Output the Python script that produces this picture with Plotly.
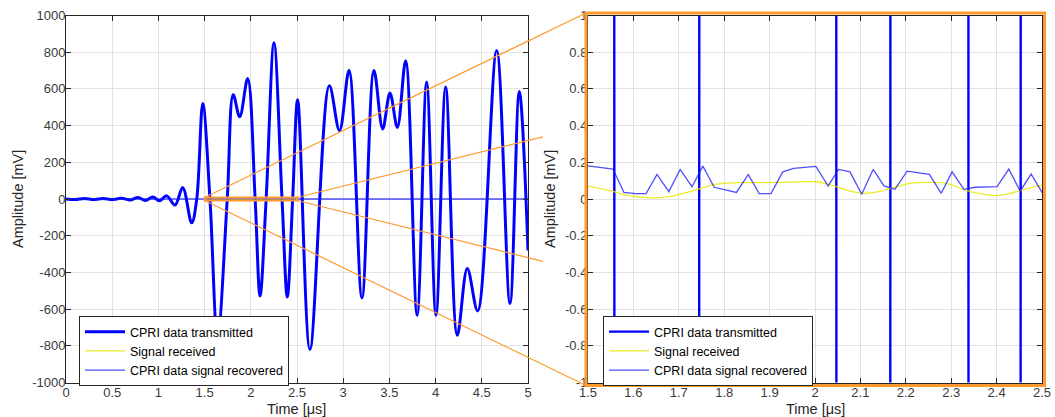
import plotly.graph_objects as go

W, H = 1055, 417

# ---------------- data ----------------
# CPRI data transmitted: key points (extrema / zero crossings), time in µs, amplitude in mV
tx_time = [0.00, 0.10, 0.20, 0.30, 0.40, 0.50, 0.60, 0.70, 0.78, 0.86, 0.94, 1.01, 1.09,
           1.18, 1.263, 1.36, 1.415, 1.48, 1.558, 1.64, 1.745, 1.81, 1.88, 1.966, 2.047,
           2.10, 2.166, 2.251, 2.338, 2.395, 2.453, 2.507, 2.64, 2.85, 2.96, 3.063, 3.203,
           3.333, 3.427, 3.506, 3.586, 3.676, 3.80, 3.903, 4.004, 4.109, 4.235, 4.343,
           4.455, 4.661, 4.805, 4.906, 5.00]
tx_amp = [0, -3, 3, -3, 3, -3, 4, -5, 8, -8, 11, -10, 17,
          -33, 62, -130, 0, 520, 0, -760, 0, 568, 448, 656, 0,
          -528, 0, 851, 0, -534, 0, 541, -820, 617, 372, 700, -539,
          700, 382, 578, 390, 754, -634, 637, -634, 610, -743, -379,
          -610, 809, -570, 586, -280]

# Signal received (yellow)
rx_time = [1.50, 1.55, 1.58, 1.63, 1.68, 1.725, 1.78, 1.83, 1.875, 1.93, 2.00, 2.03, 2.07,
           2.105, 2.14, 2.18, 2.21, 2.25, 2.29, 2.33, 2.37, 2.40, 2.43, 2.47, 2.50]
rx_amp = [0.070, 0.045, 0.024, 0.007, 0.013, 0.040, 0.080, 0.089, 0.089, 0.091, 0.094, 0.080,
          0.049, 0.031, 0.040, 0.067, 0.085, 0.091, 0.085, 0.049, 0.026, 0.018, 0.031, 0.058,
          0.076]

# CPRI data signal recovered (thin blue)
rec_time = [0.0, 0.5, 1.0,
            1.500, 1.555, 1.579, 1.604, 1.628, 1.652, 1.678, 1.703, 1.729, 1.753, 1.778,
            1.827, 1.853, 1.877, 1.903, 1.929, 1.953, 2.002, 2.029, 2.052, 2.077, 2.103,
            2.128, 2.152, 2.176, 2.203, 2.252, 2.278, 2.302, 2.328, 2.353, 2.401, 2.427,
            2.452, 2.476, 2.500,
            3.0, 3.5, 4.0, 4.5, 5.0]
rec_amp = [0.1, 0.1, 0.1,
           0.181, 0.163, 0.036, 0.029, 0.029, 0.134, 0.040, 0.161, 0.067, 0.179, 0.064,
           0.036, 0.134, 0.029, 0.029, 0.148, 0.167, 0.178, 0.071, 0.161, 0.148, 0.026,
           0.161, 0.071, 0.053, 0.152, 0.134, 0.031, 0.148, 0.053, 0.064, 0.067, 0.163,
           0.043, 0.136, 0.036,
           0.1, 0.1, 0.1, 0.1, 0.1]

# tick labels
left_x_labels = ["0", "0.5", "1", "1.5", "2", "2.5", "3", "3.5", "4", "4.5", "5"]
left_y_labels = ["-1000", "-800", "-600", "-400", "-200", "0", "200", "400", "600", "800", "1000"]
right_x_labels = ["1.5", "1.6", "1.7", "1.8", "1.9", "2", "2.1", "2.2", "2.3", "2.4", "2.5"]
right_y_labels = ["-1", "-0.8", "-0.6", "-0.4", "-0.2", "0", "0.2", "0.4", "0.6", "0.8", "1"]

series_names = ["CPRI data transmitted", "Signal received", "CPRI data signal recovered"]
x_title = "Time [μs]"
y_title = "Amplitude [mV]"

# zoom window shown on the right
ZOOM_T = [1.5, 2.5]
ZOOM_V = [-8, 8]
LEFT_X_RANGE = [0, 5]
LEFT_Y_RANGE = [-1000, 1000]
RIGHT_Y_RANGE = [-1, 1]

# ---------------- layout geometry ----------------
L_DOM = [66 / W, 528 / W]
R_DOM = [588 / W, 1042 / W]
Y_DOM = [(H - 382.5) / H, (H - 15.5) / H]

FONT = "Liberation Sans, Arial, sans-serif"
ORANGE = "#FF9A2E"
BLUE = "#0000FF"
THIN_BLUE = "rgba(20,20,255,0.75)"
YELLOW = "rgba(232,232,0,0.85)"

fig = go.Figure()


def add_series(xa, ya, legend, thick, shape):
    fig.add_trace(go.Scatter(x=tx_time, y=tx_amp, mode="lines", name=series_names[0],
                             line=dict(color=BLUE, width=thick, shape=shape, smoothing=1),
                             xaxis=xa, yaxis=ya, legend=legend))
    fig.add_trace(go.Scatter(x=rx_time, y=rx_amp, mode="lines", name=series_names[1],
                             line=dict(color=YELLOW, width=1.3, shape="spline", smoothing=1),
                             xaxis=xa, yaxis=ya, legend=legend))
    fig.add_trace(go.Scatter(x=rec_time, y=rec_amp, mode="lines", name=series_names[2],
                             line=dict(color=THIN_BLUE, width=1.3),
                             xaxis=xa, yaxis=ya, legend=legend))


add_series("x", "y", "legend", 3, "spline")
add_series("x2", "y2", "legend2", 2.4, "linear")

axis_style = dict(showline=True, linecolor="#262626", linewidth=1, mirror="ticks",
                  ticks="inside", ticklen=5, tickcolor="#262626", tickwidth=1,
                  showgrid=True, gridcolor="#e2e2e2", gridwidth=1, zeroline=False,
                  automargin=False,
                  tickfont=dict(family=FONT, size=13, color="#3a3a3a"))

legend_style = dict(xanchor="left", yanchor="top", bgcolor="white", bordercolor="#262626",
                    borderwidth=1, font=dict(family=FONT, size=12.5, color="black"),
                    tracegroupgap=0, itemwidth=40)

fig.update_layout(
    width=W, height=H,
    margin=dict(l=0, r=0, t=0, b=0, autoexpand=False),
    paper_bgcolor="white", plot_bgcolor="white",
    xaxis=dict(domain=L_DOM, range=LEFT_X_RANGE, anchor="y",
               tickvals=[float(s) for s in left_x_labels], ticktext=left_x_labels,
               ticklabelstandoff=-2, **axis_style),
    yaxis=dict(domain=Y_DOM, range=LEFT_Y_RANGE, anchor="x",
               tickvals=[float(s) for s in left_y_labels], ticktext=left_y_labels,
               ticklabelstandoff=-3, **axis_style),
    xaxis2=dict(domain=R_DOM, range=ZOOM_T, anchor="y2",
                tickvals=[float(s) for s in right_x_labels], ticktext=right_x_labels,
                ticklabelstandoff=-2, **axis_style),
    yaxis2=dict(domain=Y_DOM, range=RIGHT_Y_RANGE, anchor="x2",
                tickvals=[float(s) for s in right_y_labels], ticktext=right_y_labels,
                ticklabelstandoff=-3, **axis_style),
    legend=dict(x=79 / W, y=(H - 316) / H, **legend_style),
    legend2=dict(x=603 / W, y=(H - 316) / H, **legend_style),
    showlegend=True,
)

# axis titles
title_font = dict(family=FONT, size=14.5, color="#262626")
for cx in [(L_DOM[0] + L_DOM[1]) / 2, (R_DOM[0] + R_DOM[1]) / 2]:
    fig.add_annotation(text=x_title, xref="paper", yref="paper", x=cx, y=(H - 408.5) / H,
                       xanchor="center", yanchor="middle", showarrow=False, font=title_font)
for cx in [18 / W, 550 / W]:
    fig.add_annotation(text=y_title, xref="paper", yref="paper", x=cx, y=(Y_DOM[0] + Y_DOM[1]) / 2,
                       xanchor="center", yanchor="middle", showarrow=False, textangle=-90,
                       font=title_font)


# ---------------- zoom indicator ----------------
def lx(t):
    return L_DOM[0] + (t - LEFT_X_RANGE[0]) / (LEFT_X_RANGE[1] - LEFT_X_RANGE[0]) * (L_DOM[1] - L_DOM[0])


def ly(v):
    return Y_DOM[0] + (v - LEFT_Y_RANGE[0]) / (LEFT_Y_RANGE[1] - LEFT_Y_RANGE[0]) * (Y_DOM[1] - Y_DOM[0])


zx0, zx1 = lx(ZOOM_T[0]), lx(ZOOM_T[1])
zy0, zy1 = ly(ZOOM_V[0]), ly(ZOOM_V[1])
fx0, fx1 = R_DOM[0] - 2 / W, R_DOM[1] + 2.5 / W
fy0, fy1 = Y_DOM[0] - 3 / H, Y_DOM[1] + 2.5 / H
CLIP_X = 543 / W

fig.add_shape(type="rect", xref="x", yref="y", x0=ZOOM_T[0], x1=ZOOM_T[1], y0=ZOOM_V[0], y1=ZOOM_V[1],
              line=dict(color=ORANGE, width=2))
fig.add_shape(type="rect", xref="paper", yref="paper", x0=fx0, x1=fx1, y0=fy0, y1=fy1,
              line=dict(color=ORANGE, width=3))


def connector(xa, ya, xb, yb, clip=None):
    if clip is not None:
        s = (clip - xa) / (xb - xa)
        xb, yb = clip, ya + s * (yb - ya)
    fig.add_shape(type="line", xref="paper", yref="paper", x0=xa, y0=ya, x1=xb, y1=yb,
                  line=dict(color=ORANGE, width=1.2))


connector(zx0, zy1, fx0, fy1)
connector(zx0, zy0, fx0, fy0)
connector(zx1, zy1, fx1, fy1, CLIP_X)
connector(zx1, zy0, fx1, fy0, CLIP_X)

fig.write_html("out.html")
